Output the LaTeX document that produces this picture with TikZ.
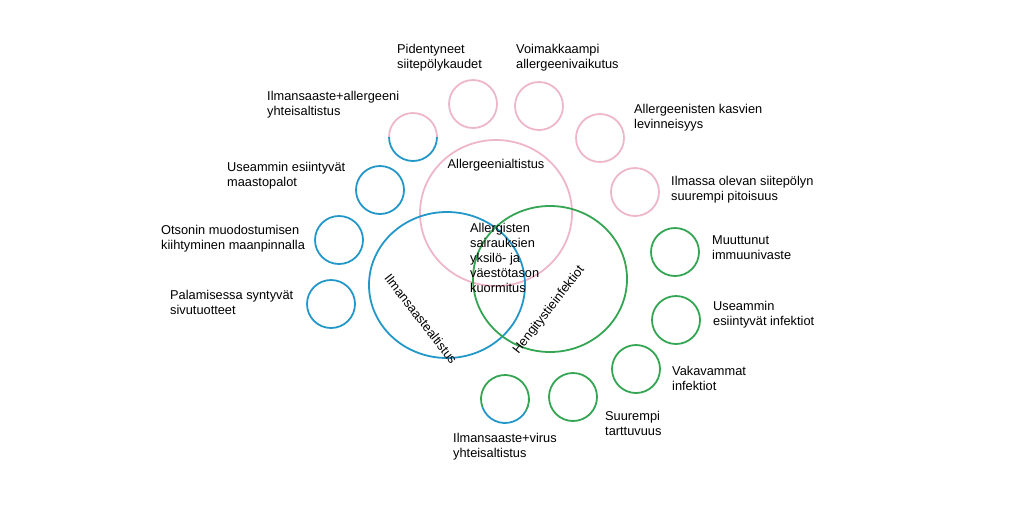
\documentclass[tikz,border=0pt]{standalone}
\usepackage{fontspec}
\setmainfont{Liberation Sans}
\begin{document}
\begin{tikzpicture}[x=1pt,y=-1pt,
 lab/.style={anchor=north west,align=left,inner sep=0pt,font=\fontsize{12.8}{15}\selectfont},
 pk/.style={draw=cpink,line width=1.8pt},
 bl/.style={draw=cblue,line width=1.8pt},
 gr/.style={draw=cgreen,line width=1.8pt}]
\definecolor{cpink}{RGB}{238,182,202}
\definecolor{cblue}{RGB}{35,152,200}
\definecolor{cgreen}{RGB}{52,165,82}
\useasboundingbox (0,0) rectangle (1024,512);
% big circles
\draw[pk] (496,213) ellipse (76 and 73);
\draw[bl] (447,285) ellipse (78 and 73);
\draw[gr] (550,279) ellipse (77 and 73);
% small circles
\foreach \p in {(473,104),(539,106),(600,138),(635,192)} \draw[pk] \p circle (24);
\foreach \p in {(380,190),(339,240),(331,304)} \draw[bl] \p circle (24);
\foreach \p in {(675,252),(676,320),(636,369),(573,397)} \draw[gr] \p circle (24);
% mixed
\draw[pk] (389,137) arc (180:360:24);
\draw[bl] (389,137) arc (180:0:24);
\draw[gr] (505,399) ++(160:24) arc (160:390:24);
\draw[bl] (505,399) ++(160:24) arc (160:30:24);
% labels
\node[lab] (l1) at (397,44) {Pidentyneet\\siitepölykaudet};
\node[lab] (l2) at (516,44) {Voimakkaampi\\allergeenivaikutus};
\node[lab] (l3) at (634,104) {Allergeenisten kasvien\\levinneisyys};
\node[lab] (l4) at (671,176) {Ilmassa olevan siitepölyn\\suurempi pitoisuus};
\node[lab] (l5) at (712,235) {Muuttunut\\immuunivaste};
\node[lab] (l6) at (713,301) {Useammin\\esiintyvät infektiot};
\node[lab] (l7) at (672,366) {Vakavammat\\infektiot};
\node[lab] (l8) at (605,411) {Suurempi\\tarttuvuus};
\node[lab] (l9) at (453,433) {Ilmansaaste+virus\\yhteisaltistus};
\node[lab] (l10) at (170,290) {Palamisessa syntyvät\\sivutuotteet};
\node[lab] (l11) at (161,225) {Otsonin muodostumisen\\kiihtyminen maanpinnalla};
\node[lab] (l12) at (227,162) {Useammin esiintyvät\\maastopalot};
\node[lab] (l13) at (267,91) {Ilmansaaste+allergeeni\\yhteisaltistus};
\node[lab,anchor=north] (a) at (496,159) {Allergeenialtistus};
\node[lab] (c) at (470,223) {Allergisten\\sairauksien\\yksilö- ja\\väestötason\\kuormitus};
\node[lab,anchor=center,rotate=-52] (il) at (421,319) {Ilmansaastealtistus};
\node[lab,anchor=center,rotate=52] (he) at (549,310) {Hengitystieinfektiot};
\end{tikzpicture}
\end{document}
